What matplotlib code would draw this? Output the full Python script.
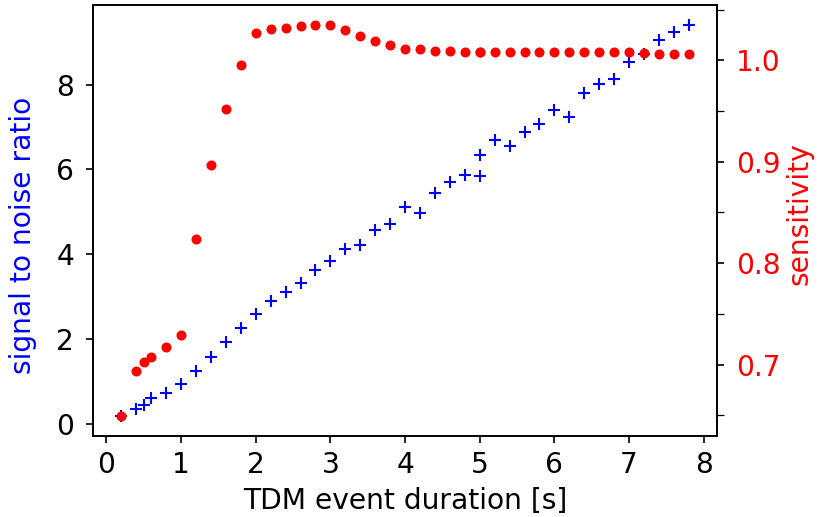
import numpy as np
import matplotlib
matplotlib.use("Agg")
import matplotlib.pyplot as plt
from matplotlib.ticker import MultipleLocator

# event durations [s]
duration = [0.2, 0.4, 0.5, 0.6, 0.8, 1.0, 1.2, 1.4, 1.6, 1.8, 2.0, 2.2, 2.4,
            2.6, 2.8, 3.0, 3.2, 3.4, 3.6, 3.8, 4.0, 4.2, 4.4, 4.6, 4.8, 5.0,
            5.0, 5.2, 5.4, 5.6, 5.8, 6.0, 6.2, 6.4, 6.6, 6.8, 7.0, 7.2, 7.4,
            7.6, 7.8]

snr = [0.17, 0.35, 0.45, 0.60, 0.73, 0.94, 1.25, 1.57, 1.92, 2.26, 2.58,
       2.89, 3.10, 3.31, 3.62, 3.83, 4.12, 4.21, 4.56, 4.70, 5.12, 4.98,
       5.44, 5.69, 5.86, 5.84, 6.34, 6.69, 6.55, 6.89, 7.06, 7.41, 7.24,
       7.79, 8.01, 8.12, 8.52, 8.71, 9.06, 9.23, 9.41]

sensitivity = [0.649, 0.694, 0.703, 0.708, 0.717, 0.729, 0.824, 0.897, 0.952,
               0.995, 1.027, 1.031, 1.032, 1.034, 1.035, 1.035, 1.030, 1.024,
               1.019, 1.015, 1.011, 1.011, 1.009, 1.009, 1.008, 1.008, 1.008,
               1.008, 1.008, 1.008, 1.008, 1.008, 1.008, 1.008, 1.008, 1.008,
               1.008, 1.007, 1.006, 1.006, 1.006]

plt.rcParams["font.size"] = 13.5
plt.rcParams["ytick.major.pad"] = 5.5
plt.rcParams["ytick.minor.pad"] = 5.5

fig = plt.figure(figsize=(819 / 150, 517 / 150), dpi=150)
ax = fig.add_axes([0.1136, 0.1567, 0.762, 0.8333])
ax.plot(duration, snr, "b+", markersize=5.5)
ax.xaxis.set_major_locator(MultipleLocator(1))
ax.set_xlabel("TDM event duration [s]")
ax.set_ylabel("signal to noise ratio", color="b")
ax.yaxis.set_label_coords(-0.09, 0.466)

ax2 = ax.twinx()
ax2.plot(duration, sensitivity, "ro", markersize=3.8)
ax2.set_ylabel("sensitivity", color="r")
ax2.yaxis.set_label_coords(1.11, 0.515)
ax2.yaxis.set_major_locator(MultipleLocator(0.1))
ax2.yaxis.set_minor_locator(MultipleLocator(0.05))
ax2.tick_params(axis="y", which="both", colors="r", length=3.5)
ax2.tick_params(axis="y", which="both", color="black")
ax2.spines["right"].set_color("black")

fig.savefig("out.png", dpi=150)
